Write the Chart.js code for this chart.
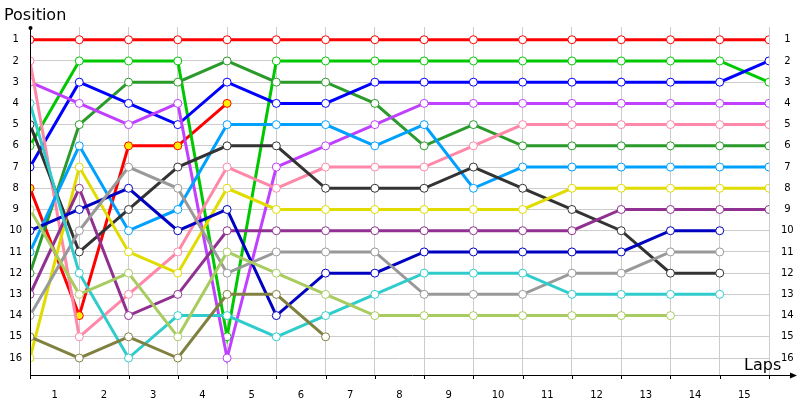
<!DOCTYPE html>
<html>
<head>
<meta charset="utf-8">
<script src="https://cdn.jsdelivr.net/npm/chart.js@4"></script>
<style>
  body { margin: 0; background: #fff; }
  #wrap { width: 800px; height: 400px; }
</style>
</head>
<body>
<div id="wrap"><canvas id="lapChart"></canvas></div>
<script>
// Posiciones por vuelta (vuelta 0 = parrilla)
const lapLabels = ['1','2','3','4','5','6','7','8','9','10','11','12','13','14','15'];
const positionLabels = [1,2,3,4,5,6,7,8,9,10,11,12,13,14,15,16];

const red      = [1,1,1,1,1,1,1,1,1,1,1,1,1,1,1,1];
const green    = [6,2,2,2,15,2,2,2,2,2,2,2,2,2,2,3];
const darkGreen= [12,5,3,3,2,3,3,4,6,5,6,6,6,6,6,6];
const blue     = [7,3,4,5,3,4,4,3,3,3,3,3,3,3,3,2];
const violet   = [3,4,5,4,16,7,6,5,4,4,4,4,4,4,4,4];
const pink     = [2,15,13,11,7,8,7,7,7,6,5,5,5,5,5,5];
const skyBlue  = [11,6,10,9,5,5,5,6,5,8,7,7,7,7,7,7];
const black    = [5,11,9,7,6,6,8,8,8,7,8,9,10,12,12];
const redYellow= [8,14,6,6,4];
const yellow   = [16,7,11,12,8,9,9,9,9,9,9,8,8,8,8,8];
const plum     = [13,8,14,13,10,10,10,10,10,10,10,10,9,9,9,9];
const navy     = [10,9,8,10,9,14,12,12,11,11,11,11,11,10,10];
const gray     = [14,10,7,8,12,11,11,11,13,13,13,12,12,11,11];
const cyan     = [4,12,16,14,14,15,14,13,12,12,12,13,13,13,13];
const lime     = [9,13,12,15,11,12,13,14,14,14,14,14,14,14];
const olive    = [15,16,15,16,13,13,15];

function serie(valores, color, relleno) {
    return {
        data: valores.map((v, i) => ({ x: i, y: v })),
        borderColor: color,
        backgroundColor: color,
        borderWidth: 3,
        pointRadius: 4,
        pointBorderWidth: 1,
        pointBackgroundColor: relleno || '#ffffff',
        pointBorderColor: color,
        tension: 0
    };
}

const datasets = [
    serie(olive, '#808040'),
    serie(lime, '#a8cc60'),
    serie(cyan, '#30cccc'),
    serie(gray, '#999999'),
    serie(navy, '#0000c0'),
    serie(plum, '#903090'),
    serie(yellow, '#e0dc00'),
    serie(black, '#333333'),
    serie(skyBlue, '#00a0ff'),
    serie(pink, '#ff88a8'),
    serie(violet, '#c040ff'),
    serie(blue, '#0000ff'),
    serie(darkGreen, '#2a9a2a'),
    serie(green, '#00c800'),
    serie(redYellow, '#ff0000', '#ffee00'),
    serie(red, '#ff0000')
];

// Ejes, flechas y textos
const extras = {
    id: 'extras',
    afterDraw(chart) {
        const ctx = chart.ctx;
        const a = chart.chartArea;
        ctx.save();
        ctx.strokeStyle = '#000';
        ctx.fillStyle = '#000';
        ctx.lineWidth = 1;
        ctx.beginPath();
        ctx.moveTo(a.left + 0.5, a.top);
        ctx.lineTo(a.left + 0.5, a.bottom);
        ctx.moveTo(a.left, a.bottom + 0.5);
        ctx.lineTo(795, a.bottom + 0.5);
        const xs = chart.scales.x;
        for (let i = 0; i <= 15; i++) {
            const px = Math.round(xs.getPixelForValue(i)) + 0.5;
            ctx.moveTo(px, a.bottom);
            ctx.lineTo(px, a.bottom + 4);
        }
        ctx.stroke();
        ctx.beginPath();
        ctx.arc(a.left + 0.5, a.top + 1, 2, 0, Math.PI * 2);
        ctx.fill();
        ctx.beginPath();
        ctx.moveTo(797, a.bottom + 0.5);
        ctx.lineTo(790, a.bottom - 2.5);
        ctx.lineTo(790, a.bottom + 3.5);
        ctx.fill();
        ctx.font = '16px "DejaVu Sans", sans-serif';
        ctx.textBaseline = 'alphabetic';
        ctx.textAlign = 'left';
        ctx.fillText('Position', 4, 20);
        ctx.fillText('Laps', 744, 370);
        ctx.restore();
    }
};

const fuente = { family: '"DejaVu Sans", sans-serif', size: 10 };

new Chart(document.getElementById('lapChart').getContext('2d'), {
    type: 'line',
    data: { datasets: datasets },
    options: {
        responsive: true,
        maintainAspectRatio: false,
        animation: false,
        layout: { padding: { top: 27 } },
        plugins: { legend: { display: false }, tooltip: { enabled: false } },
        scales: {
            x: {
                type: 'linear', min: 0, max: 15, position: 'bottom',
                grid: { color: '#cccccc', drawTicks: false },
                border: { display: false },
                ticks: { display: false, stepSize: 1 },
                afterFit: s => { s.height = 0; }
            },
            x2: {
                type: 'linear', min: 0, max: 15, position: 'bottom',
                grid: { display: false },
                border: { display: false },
                afterBuildTicks: s => { s.ticks = lapLabels.map((l, i) => ({ value: i + 0.5 })); },
                ticks: { color: '#000', font: fuente, padding: 6, maxRotation: 0, autoSkip: false,
                         callback: (v, i) => lapLabels[i] },
                afterFit: s => { s.height = 25; }
            },
            y: {
                type: 'linear', min: 0.4, max: 16.8, reverse: true, position: 'left',
                grid: { color: '#cccccc', drawTicks: false },
                border: { display: false },
                afterBuildTicks: s => { s.ticks = positionLabels.map(p => ({ value: p })); },
                ticks: { color: '#000', font: fuente, padding: 8, align: 'center', crossAlign: 'center' },
                afterFit: s => { s.width = 30; }
            },
            yR: {
                type: 'linear', min: 0.4, max: 16.8, reverse: true, position: 'right',
                grid: { display: false },
                border: { display: false },
                afterBuildTicks: s => { s.ticks = positionLabels.map(p => ({ value: p })); },
                ticks: { color: '#000', font: fuente, padding: 4, crossAlign: 'center' },
                afterFit: s => { s.width = 31; }
            }
        }
    },
    plugins: [extras]
});
</script>
</body>
</html>
